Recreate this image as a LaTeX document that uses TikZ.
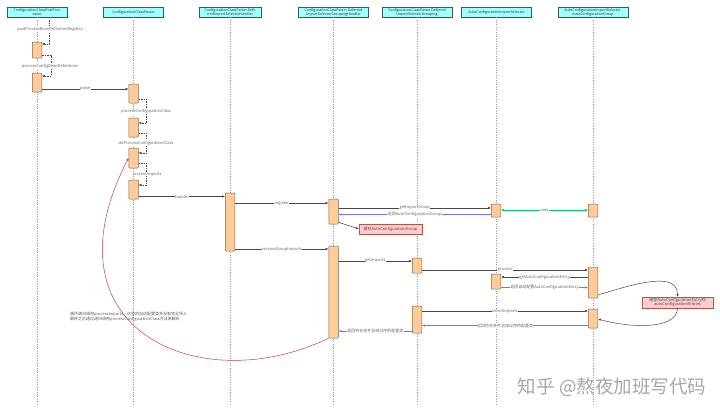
\documentclass[tikz,border=0pt]{standalone}
\usepackage{fontspec}
\setmainfont{Noto Sans CJK SC}
\usetikzlibrary{positioning, calc, arrows.meta}
\definecolor{headfill}{RGB}{160,255,255}
\definecolor{headline}{RGB}{60,90,90}
\definecolor{actfill}{RGB}{255,204,153}
\definecolor{actline}{RGB}{130,100,75}
\definecolor{notefill}{RGB}{255,204,204}
\definecolor{noteline}{RGB}{184,84,80}
\definecolor{retblue}{RGB}{115,115,255}
\definecolor{newgreen}{RGB}{0,204,102}
\definecolor{loopred}{RGB}{205,60,60}
\definecolor{msggray}{RGB}{70,70,70}

\begin{document}
\begin{tikzpicture}[
        x=1pt, y=-1pt,
        head/.style={rectangle, draw=headline, fill=headfill, minimum height=9.5pt, inner sep=0.3pt, align=center, font=\fontsize{3.6}{4}\selectfont, text=black!80},
        life/.style={draw=black!40, dotted, line width=0.4pt},
        act/.style={rectangle, draw=actline, fill=actfill, minimum width=9.5pt, inner sep=0pt, rounded corners=0.8pt, line width=0.5pt},
        lbl/.style={font=\fontsize{4}{4.5}\selectfont, text=black!60, fill=white, inner sep=0.4pt},
        msg/.style={draw=msggray, line width=0.5pt, -{Latex[length=2.8pt,width=2.4pt]}},
        selfmsg/.style={draw=msggray, dashed, dash pattern=on 1.5pt off 1pt, line width=0.4pt, -{Latex[length=2.8pt,width=2.4pt]}},
        retmsg/.style={draw=retblue, line width=0.5pt, -{Latex[length=2.8pt,width=2.4pt]}},
        notebox/.style={rectangle, draw=noteline, fill=notefill, inner sep=0.6pt, align=center, font=\fontsize{4}{4.6}\selectfont, text=black!70}
    ]
        \useasboundingbox (0,0) rectangle (720,418);

        % Participants
        \node[head, minimum width=60pt] (H1) at (37,12.3) {ConfigurationClassPostProc\\essor};
        \node[head, minimum width=60pt] (H2) at (133.5,12.3) {ConfigurationClassParser};
        \node[head, minimum width=62pt] (H3) at (230,12.3) {ConfigurationClassParser.Defe\\rredImportSelectorHandler};
        \node[head, minimum width=70pt] (H4) at (333.5,12.3) {ConfigurationClassParser.Deferred\\ImportSelectorGroupingHandler};
        \node[head, minimum width=70pt] (H5) at (417,12.3) {ConfigurationClassParser.Deferred\\ImportSelectorGrouping};
        \node[head, minimum width=70pt] (H6) at (496.5,12.3) {AutoConfigurationImportSelector};
        \node[head, minimum width=70pt] (H7) at (593,12.3) {AutoConfigurationImportSelector.\\AutoConfigurationGroup};

        % Lifelines
        \draw[life] (H1.south) -- (H1.south |- 0,404);
        \draw[life] (H2.south) -- (H2.south |- 0,404);
        \draw[life] (H3.south) -- (H3.south |- 0,404);
        \draw[life] (H4.south) -- (H4.south |- 0,404);
        \draw[life] (H5.south) -- (H5.south |- 0,404);
        \draw[life] (H6.south) -- (H6.south |- 0,404);
        \draw[life] (H7.south) -- (H7.south |- 0,404);

        % Activations
        \node[act, minimum height=16pt] (A1a) at (37,50) {};
        \node[act, minimum height=19pt] (A1b) at (37,82.5) {};
        \node[act, minimum height=19pt] (A2a) at (133.5,93.5) {};
        \node[act, minimum height=19pt] (A2b) at (133.5,127.5) {};
        \node[act, minimum height=20pt] (A2c) at (133.5,158) {};
        \node[act, minimum height=19pt] (A2d) at (133.5,189.5) {};
        \node[act, minimum height=58pt] (A3a) at (230,222) {};
        \node[act, minimum height=25pt] (A4a) at (333.5,211.5) {};
        \node[act, minimum height=13pt] (A6a) at (496,210.5) {};
        \node[act, minimum height=13pt] (A7a) at (593,210.5) {};
        \node[act, minimum height=92pt] (A4b) at (333.5,292) {};
        \node[act, minimum height=15pt] (A5a) at (417,265.5) {};
        \node[act, minimum height=31pt] (A7b) at (593,282.5) {};
        \node[act, minimum height=15pt] (A6b) at (496,281.5) {};
        \node[act, minimum height=27pt] (A5b) at (417,319.5) {};
        \node[act, minimum height=19pt] (A7c) at (593,318.5) {};

        % Self calls
        \coordinate (S0) at (49,20);
        \draw[selfmsg] (S0) |- (A1a.east |- 0,44);
        \node[lbl] (L1) at (50,29) {postProcessBeanDefinitionRegistry};
        \draw[selfmsg] (A1a.east |- 0,55) -- ++(9,0) |- (A1b.east |- 0,76);
        \node[lbl] (L2) at (50,66) {processConfigBeanDefinitions};
        \draw[selfmsg] (A2a.east |- 0,99) -- ++(8,0) |- (A2b.east |- 0,123);
        \node[lbl] (L3) at (146,111.5) {processConfigurationClass};
        \draw[selfmsg] (A2b.east |- 0,133) -- ++(8,0) |- (A2c.east |- 0,153);
        \node[lbl] (L4) at (146,143) {doProcessConfigurationClass};
        \draw[selfmsg] (A2c.east |- 0,163) -- ++(8,0) |- (A2d.east |- 0,185);
        \node[lbl] (L5) at (147,174) {processImports};

        % Messages
        \draw[msg] (A1b.east |- 0,89) -- node[lbl] (M1) {parse} (A2a.west |- 0,89);
        \draw[msg] (A2d.east |- 0,196.5) -- node[lbl] (M2) {handle} (A3a.west |- 0,196.5);
        \draw[msg] (A3a.east |- 0,203) -- node[lbl] (M3) {register} (A4a.west |- 0,203);
        \draw[msg] (A4a.east |- 0,208) -- node[lbl] (M4) {getImportGroup} (A6a.west |- 0,208);
        \draw[retmsg] (A6a.west |- 0,214.5) -- node[lbl] (M5) {返回AutoConfigurationGroup} (A4a.east |- 0,214.5);
        \draw[draw=newgreen, line width=0.5pt, {Latex[length=2.8pt,width=2.4pt]}-{Latex[length=2.8pt,width=2.4pt]}] (A6a.east |- 0,210) -- node[lbl] (M6) {new} (A7a.west |- 0,210);

        \node[notebox, minimum width=63pt, minimum height=10.5pt] (N1) at (390.5,229) {缓存AutoConfigurationGroup};
        \draw[msg] ([yshift=2pt]A4a.south east) -- (N1.west);

        \draw[msg] (A3a.east |- 0,249) -- node[lbl] (M7) {processGroupImports} (A4b.west |- 0,249);
        \draw[msg] (A4b.east |- 0,261) -- node[lbl] (M8) {getImports} (A5a.west |- 0,261);
        \draw[msg] (A5a.east |- 0,270) -- node[lbl] (M9) {process} (A7b.west |- 0,270);
        \draw[msg] (A7b.west |- 0,277) -- node[lbl] (M10) {getAutoConfigurationEntry} (A6b.east |- 0,277);
        \draw[retmsg] (A6b.east |- 0,287.5) -- node[lbl] (M11) {返回自动配置AutoConfigurationEntry} (A7b.west |- 0,287.5);

        \node[notebox, minimum width=71pt, minimum height=11pt] (N2) at (677.5,302.5) {缓存AutoConfigurationEntry到\\autoConfigurationEntries};
        \draw[msg] (A7b.east |- 0,295) .. controls (640,282) and (677,272) .. (N2.north);
        \draw[msg] (N2.south) .. controls (677,330) and (630,328) .. (A7c.east |- 0,319);

        \draw[msg] (A5b.east |- 0,311) -- node[lbl] (M12) {selectImports} (A7c.west |- 0,311);
        \draw[retmsg] (A7c.west |- 0,325.5) -- node[lbl] (M13) {返回符合条件且排过序的配置类} (A5b.east |- 0,325.5);
        \draw[retmsg] (A5b.west |- 0,331) -- node[lbl] (M14) {返回符合条件且排过序的配置类} (A4b.east |- 0,331);

        % Recursion
        \draw[draw=loopred, line width=0.5pt, -{Latex[length=2.8pt,width=2.4pt]}] (A4b.south west) .. controls (200,400) and (40,330) .. (A2c.west);
        \node[anchor=west, align=left, font=\fontsize{4}{5}\selectfont, text=black!65, inner sep=0pt] (T1) at (70,317) {循环递归调用processImports，这里的自动配置类并没有完全导入\\最终之后通过递归调用processConfigurationClass方法来解析};

        % Watermark
        \node[font=\fontsize{18.5}{19}\selectfont, text=black!35, inner sep=0pt] (W) at (612,387) {知乎 @熬夜加班写代码};
    \end{tikzpicture}
\end{document}
